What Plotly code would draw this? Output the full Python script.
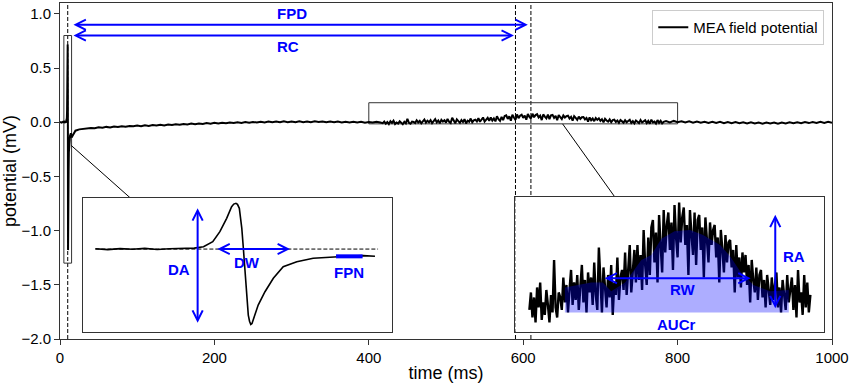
import plotly.graph_objects as go

# ------------------------------------------------------------------ data
# main field-potential trace (time in ms, potential in mV)
PRE_T = [0, 2, 4]
PRE_V = [0.002, -0.003, 0.004]

# depolarisation spike (also shown in the left inset)
SPIKE_T = [5.4, 5.8, 6.2, 6.6, 7.0, 7.4, 7.8, 8.2, 8.6, 8.9, 9.2, 9.43, 9.65,
           9.81, 9.88, 9.95, 10.0, 10.06, 10.14, 10.19, 10.24, 10.30, 10.35,
           10.39, 10.43, 10.47, 10.53, 10.67, 10.89, 11.16, 11.48, 11.92,
           12.45, 12.99, 13.53, 14.07, 14.45]
SPIKE_V = [0.005, -0.008, 0.006, -0.004, 0.010, -0.006, 0.004, 0.012, 0.015,
           0.037, 0.115, 0.272, 0.482, 0.664, 0.705, 0.717, 0.700, 0.639,
           0.325, 0.012, -0.355, -0.720, -1.034, -1.130, -1.180, -1.165,
           -1.086, -0.877, -0.669, -0.459, -0.277, -0.198, -0.145, -0.124,
           -0.113, -0.103, -0.113]

# slow recovery after the spike (sampled every 5 ms from 15 ms)
DRIFT1_T0, DRIFT1_DT = 15, 5
DRIFT1_V = [-0.140, -0.078, -0.066, -0.061, -0.057, -0.053, -0.056, -0.047, -0.051, -0.043,
            -0.048, -0.040, -0.045, -0.037, -0.042, -0.034, -0.038, -0.031, -0.036, -0.029,
            -0.034, -0.026, -0.031, -0.023, -0.029, -0.021, -0.026, -0.019, -0.024, -0.016,
            -0.021, -0.013, -0.019, -0.011, -0.016, -0.008, -0.014, -0.006, -0.011, -0.004,
            -0.010, -0.002, -0.008, 0.000, -0.006, 0.002, -0.005, 0.003, -0.003, 0.005,
            -0.002, 0.006, -0.001, 0.007, 0.000, 0.008, 0.001, 0.007, -0.001, 0.008,
            0.001, 0.007, -0.001, 0.008, 0.002, 0.007, 0.000, 0.006, -0.001, 0.006,
            -0.002, 0.005, -0.002, 0.004, -0.003, 0.004, -0.004, 0.003, -0.003, 0.004,
            -0.002]

# repolarisation wave, high resolution (every 2 ms from 418 ms), in µV
RIPPLE_T0, RIPPLE_DT = 418, 2
RIPPLE_UV = [-8, 6, -14, 2, -18, 10, -6, 14, -16, -2,
             -12, 8, -4, -18, 4, -10, 32, -6, -14, 6,
             2, -8, 18, -2, 12, -10, 8, 24, -4, 14,
             0, 20, -8, 12, 28, -2, 16, -10, 22, 6,
             18, -4, 30, 4, -8, 42, 10, -10, 26, 8,
             -6, 20, 2, 28, -12, 14, 4, 34, 0, 18,
             24, 8, 38, 4, 30, 44, 6, 26, 40, 14,
             44, 16, 36, 8, 56, 28, 12, 50, 20, 58,
             64, 30, 54, 14, 68, 44, 22, 72, 38, 60,
             70, 40, 62, 24, 76, 50, 34, 78, 46, 66,
             74, 44, 60, 20, 72, 52, 36, 70, 28, 64,
             68, 40, 58, 18, 66, 48, 30, 62, 44, 56,
             60, 34, 50, 14, 56, 40, 22, 52, 30, 46,
             48, 26, 40, 6, 44, 18, 34, 10, 38, 22,
             36, 12, 28, -2, 32, 16, 6, 26, 0, 20,
             24, 2, 16, -6, 20, 8, -4, 18, 0, 12,
             22, -6, 10, -10, 16, 4, -8, 20, -2, 8,
             18, -8, 12, -14, 24, -2, 6, -12, 20, -6,
             14, -10, 4]

# tail of the trace (every 5 ms from 785 ms)
DRIFT2_T0, DRIFT2_DT = 785, 5
DRIFT2_V = [0.010, -0.002, 0.012, 0.001, 0.009, -0.003, 0.008, -0.004, 0.006, -0.005,
            0.005, -0.006, 0.004, -0.007, 0.003, -0.008, 0.002, -0.009, 0.001, -0.010,
            0.000, -0.011, -0.001, -0.012, -0.002, -0.013, -0.002, -0.012, -0.003, -0.013,
            -0.002, -0.011, -0.001, -0.010, 0.000, -0.009, 0.001, -0.008, 0.002, -0.007,
            0.003, -0.006, 0.004, -0.004]

# smoothed repolarisation wave (upper edge of AUCr area), µV
SMOOTH_T = [464, 498, 513, 524, 542, 563, 576, 589, 606, 626, 643, 665, 678, 691, 708, 730, 754]
SMOOTH_UV = [10, 14, 14, 7, 14, 32, 36, 49, 55, 56, 52, 44, 35, 23, 12, 7, 8]
AUC_BASE_UV = -10

# measured time points (ms)
DEPOL_T = 10
RC_T = 590
FPD_T = 610

LEGEND_NAME = "MEA field potential"

# ------------------------------------------------------------------ styling
FONT = "Liberation Sans, Arial, sans-serif"
BLUE = "#0000FF"
EDGE = "#333333"
DASH = "4px,2px"

# zoom windows
Z1_X, Z1_Y = [5, 15], [-1.3, 0.8]
Z2_X, Z2_Y = [400, 800], [-0.015, 0.18]
IN2_Y = [-25.4, 82.6]

# ------------------------------------------------------------------ build series
drift1_t = [DRIFT1_T0 + DRIFT1_DT * i for i in range(len(DRIFT1_V))]
ripple_t = [RIPPLE_T0 + RIPPLE_DT * i for i in range(len(RIPPLE_UV))]
drift2_t = [DRIFT2_T0 + DRIFT2_DT * i for i in range(len(DRIFT2_V))]

main_t = PRE_T + SPIKE_T + drift1_t + ripple_t + drift2_t
main_v = PRE_V + SPIKE_V + DRIFT1_V + [u / 1000 for u in RIPPLE_UV] + DRIFT2_V

fig = go.Figure()

# main trace
fig.add_trace(go.Scatter(x=main_t, y=main_v, mode="lines", name=LEGEND_NAME,
                         line=dict(color="black", width=2),
                         xaxis="x", yaxis="y", showlegend=True))

# ---- left inset (depolarisation)
fig.add_trace(go.Scatter(x=[Z1_X[0], Z1_X[1], Z1_X[1], Z1_X[0]],
                         y=[Z1_Y[0], Z1_Y[0], Z1_Y[1], Z1_Y[1]],
                         fill="toself", fillcolor="white", mode="lines",
                         line=dict(width=0), xaxis="x2", yaxis="y2",
                         showlegend=False, hoverinfo="skip"))
fig.add_trace(go.Scatter(x=[SPIKE_T[0], 14.55], y=[0, 0], mode="lines",
                         line=dict(color="black", width=1, dash=DASH),
                         xaxis="x2", yaxis="y2", showlegend=False))
fig.add_trace(go.Scatter(x=SPIKE_T, y=SPIKE_V, mode="lines",
                         line=dict(color="black", width=1.6),
                         xaxis="x2", yaxis="y2", showlegend=False))
fig.add_trace(go.Scatter(x=[13.19, 14.05], y=[-0.114, -0.114], mode="lines",
                         line=dict(color=BLUE, width=4),
                         xaxis="x2", yaxis="y2", showlegend=False))

# ---- right inset (repolarisation)
fig.add_trace(go.Scatter(x=[Z2_X[0], Z2_X[1], Z2_X[1], Z2_X[0]],
                         y=[IN2_Y[0], IN2_Y[0], IN2_Y[1], IN2_Y[1]],
                         fill="toself", fillcolor="white", mode="lines",
                         line=dict(width=0), xaxis="x3", yaxis="y3",
                         showlegend=False, hoverinfo="skip"))
fig.add_trace(go.Scatter(x=ripple_t, y=RIPPLE_UV, mode="lines",
                         line=dict(color="black", width=2.4),
                         xaxis="x3", yaxis="y3", showlegend=False))
fig.add_trace(go.Scatter(x=SMOOTH_T + SMOOTH_T[::-1],
                         y=SMOOTH_UV + [AUC_BASE_UV] * len(SMOOTH_T),
                         fill="toself", fillcolor="rgba(0,0,255,0.32)",
                         mode="lines", line=dict(width=0),
                         xaxis="x3", yaxis="y3", showlegend=False, hoverinfo="skip"))

# ------------------------------------------------------------------ shapes (main axes)
shapes = []
for t in (DEPOL_T, RC_T, FPD_T):
    shapes.append(dict(type="line", xref="x", yref="paper", x0=t, x1=t, y0=0, y1=1,
                       line=dict(color="black", width=1, dash=DASH), layer="below"))
shapes.append(dict(type="rect", xref="x", yref="y", x0=Z1_X[0], x1=Z1_X[1],
                   y0=Z1_Y[0], y1=Z1_Y[1], line=dict(color=EDGE, width=1), layer="below"))
shapes.append(dict(type="rect", xref="x", yref="y", x0=Z2_X[0], x1=Z2_X[1],
                   y0=Z2_Y[0], y1=Z2_Y[1], line=dict(color=EDGE, width=1), layer="below"))
shapes.append(dict(type="line", xref="x", yref="y", x0=14.5, y0=-0.214, x1=91.3, y1=-0.70,
                   line=dict(color="black", width=1), layer="below"))
shapes.append(dict(type="line", xref="x", yref="y", x0=651, y0=-0.015, x1=718.7, y1=-0.69,
                   line=dict(color="black", width=1), layer="below"))


# ------------------------------------------------------------------ annotations
def arrow(x0, y0, x1, y1, xr, yr):
    return dict(x=x1, y=y1, ax=x0, ay=y0, xref=xr, yref=yr, axref=xr, ayref=yr,
                text="", showarrow=True, arrowhead=5, startarrowhead=5,
                arrowside="end+start", arrowsize=1, startarrowsize=1,
                arrowwidth=2, arrowcolor=BLUE, standoff=0, startstandoff=0)


def label(txt, x, y, xr, yr):
    return dict(x=x, y=y, xref=xr, yref=yr, text="<b>%s</b>" % txt, showarrow=False,
                font=dict(family=FONT, size=15, color=BLUE),
                xanchor="center", yanchor="middle")


annotations = [
    arrow(15.5, 0.9, 606, 0.9, "x", "y"),
    arrow(15.5, 0.8, 588, 0.8, "x", "y"),
    label("FPD", 300, 1.0, "x", "y"),
    label("RC", 295, 0.70, "x", "y"),
    # left inset
    arrow(8.71, 0.664, 8.71, -1.155, "x2", "y2"),
    arrow(9.30, 0.0, 11.70, 0.0, "x2", "y2"),
    label("DA", 8.11, -0.318, "x2", "y2"),
    label("DW", 10.32, -0.214, "x2", "y2"),
    label("FPN", 13.6, -0.36, "x2", "y2"),
    # right inset
    arrow(513.5, 17.4, 704.6, 17.4, "x3", "y3"),
    arrow(736.5, 69.4, 736.5, -6.6, "x3", "y3"),
    label("RW", 617, 8, "x3", "y3"),
    label("RA", 761, 35, "x3", "y3"),
    label("AUCr", 608, -19.4, "x3", "y3"),
]

inset_axis = dict(showline=True, mirror=True, linecolor=EDGE, linewidth=1,
                  showticklabels=False, ticks="", showgrid=False, zeroline=False,
                  fixedrange=True, automargin=False)

fig.update_layout(
    template="none",
    width=850, height=383, autosize=False,
    margin=dict(l=60, r=18, t=3, b=44, pad=0),
    paper_bgcolor="white", plot_bgcolor="white",
    font=dict(family=FONT, size=15, color="black"),
    xaxis=dict(domain=[0, 1], range=[0, 1000], tickmode="array",
               tickvals=[0, 200, 400, 600, 800, 1000],
               showline=True, mirror=True, linecolor=EDGE, linewidth=1,
               ticks="outside", ticklen=5, tickwidth=1, tickcolor=EDGE, showgrid=False,
               zeroline=False, automargin=False, title=dict(text="time (ms)"),
               tickfont=dict(size=15)),
    yaxis=dict(domain=[0, 1], range=[-2.0, 1.1], tickmode="array",
               tickvals=[-2.0, -1.5, -1.0, -0.5, 0.0, 0.5, 1.0], tickformat=".1f",
               showline=True, mirror=True, linecolor=EDGE, linewidth=1,
               ticks="outside", ticklen=5, tickwidth=1, tickcolor=EDGE, showgrid=False,
               zeroline=False, automargin=False, title=dict(text="potential (mV)"),
               tickfont=dict(size=15)),
    xaxis2=dict(inset_axis, domain=[0.0298, 0.430], range=Z1_X, anchor="y2"),
    yaxis2=dict(inset_axis, domain=[0.0208, 0.4196], range=Z1_Y, anchor="x2"),
    xaxis3=dict(inset_axis, domain=[0.590, 0.990], range=Z2_X, anchor="y3"),
    yaxis3=dict(inset_axis, domain=[0.0217, 0.4235], range=IN2_Y, anchor="x3"),
    legend=dict(x=0.990, y=0.979, xanchor="right", yanchor="top",
                bgcolor="white", bordercolor="#cccccc", borderwidth=1,
                font=dict(size=15)),
    shapes=shapes,
    annotations=annotations,
    showlegend=True,
)

fig.write_html("out.html",
               config={"displayModeBar": False},
               post_script="document.body.style.margin='0px';"
                           "document.body.style.overflow='hidden';")
